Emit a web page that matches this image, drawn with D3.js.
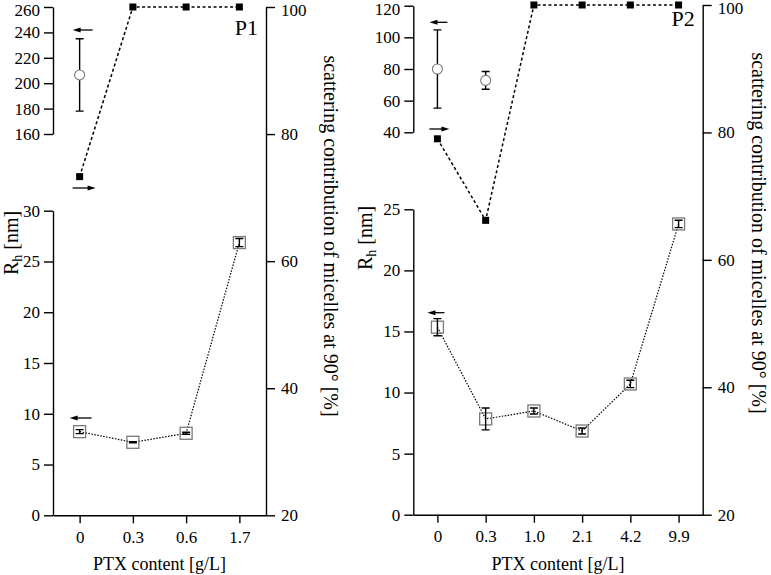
<!DOCTYPE html>
<html>
<head>
<meta charset="utf-8">
<script src="https://cdn.jsdelivr.net/npm/d3@7/dist/d3.min.js"></script>
<style>
body { margin: 0; background: #fff; }
svg text { font-family: "Liberation Serif", "Times New Roman", serif; fill: #000; }
</style>
</head>
<body>
<script>
// P1 data
var p1Categories = ["0", "0.3", "0.6", "1.7"];
var p1Scattering = [73.3, 100, 100, 100];
var p1Large = [206.5, null, null, null];
var p1LargeErr = [28.5, null, null, null];
var p1Small = [8.24, 7.19, 8.08, 26.86];
var p1SmallErr = [0.2, 0.05, 0.1, 0.4];
var p1TopTicks = [160, 180, 200, 220, 240, 260];
var p1BottomTicks = [0, 5, 10, 15, 20, 25, 30];

// P2 data
var p2Categories = ["0", "0.3", "1.0", "2.1", "4.2", "9.9"];
var p2Scattering = [79.0, 66.2, 100, 100, 100, 100];
var p2Large = [80, 72.8, null, null, null, null];
var p2LargeErr = [24.7, 5.6, null, null, null, null];
var p2Small = [15.35, 7.84, 8.49, 6.85, 10.7, 23.8];
var p2SmallErr = [0.7, 0.9, 0.25, 0.25, 0.3, 0.3];
var p2TopTicks = [40, 60, 80, 100, 120];
var p2BottomTicks = [0, 5, 10, 15, 20, 25];

var scatterTicks = [20, 40, 60, 80, 100];

var width = 771,
	height = 575;

var svg = d3.select("body").append("svg")
	.attr("width", width)
	.attr("height", height);

var panels = [
	{
		name: "P1", cats: p1Categories, scat: p1Scattering,
		large: p1Large, largeErr: p1LargeErr, small: p1Small, smallErr: p1SmallErr,
		topTicks: p1TopTicks, bottomTicks: p1BottomTicks,
		left: 53, right: 266, top: 7, bottom: 515.3,
		topDomain: [160, 260], topRange: [134, 7], bottomTop: 210.7,
		rhX: 18, rhY: 243, scX: 324, scY: 236, nameY: 35,
		arrows: [[13, -7, 30], [-7, 16, 188], [12, -10, 418]]
	},
	{
		name: "P2", cats: p2Categories, scat: p2Scattering,
		large: p2Large, largeErr: p2LargeErr, small: p2Small, smallErr: p2SmallErr,
		topTicks: p2TopTicks, bottomTicks: p2BottomTicks,
		left: 413.3, right: 702.7, top: 5, bottom: 514.7,
		topDomain: [40, 120], topRange: [132.3, 5.7], bottomTop: 209.3,
		rhX: 372, rhY: 238, scX: 752, scY: 233, nameY: 26,
		arrows: [[10, -8, 22.3], [-8, 12, 129], [7, -10, 312.7]]
	}
];

function styleAxis(g) {
	g.attr("font-size", null).attr("font-family", null);
	g.selectAll("text").style("font-size", "17px");
	g.selectAll("path, line").attr("stroke", "#000").attr("stroke-width", 1.4);
	// keep the labels at the very top inside the picture
	g.selectAll(".tick").each(function() {
		var t = d3.select(this).attr("transform");
		var ty = +t.slice(t.indexOf(",") + 1, t.indexOf(")"));
		if (ty < 10) d3.select(this).select("text").attr("dy", "0.5em");
	});
}

function drawArrow(g, x1, x2, y) {
	var dir = x2 > x1 ? 1 : -1;
	g.append("line")
		.attr("x1", x1).attr("x2", x2 - dir * 5)
		.attr("y1", y).attr("y2", y)
		.attr("stroke", "#000").attr("stroke-width", 1.3);
	g.append("path")
		.attr("d", "M" + x2 + "," + y + "L" + (x2 - dir * 8) + "," + (y - 2.5) + "L" + (x2 - dir * 8) + "," + (y + 2.5) + "Z")
		.attr("fill", "#000");
}

panels.forEach(function(p) {
	var g = svg.append("g");

	var x = d3.scalePoint()
		.domain(p.cats)
		.range([p.left, p.right])
		.padding(0.5);

	var yTop = d3.scaleLinear().domain(p.topDomain).range(p.topRange);
	var yBottom = d3.scaleLinear()
		.domain([0, d3.max(p.bottomTicks)])
		.range([p.bottom, p.bottomTop]);
	var yRight = d3.scaleLinear().domain([20, 100]).range([p.bottom, p.top]);

	// axes
	g.append("g")
		.attr("transform", "translate(" + p.left + ",0)")
		.call(d3.axisLeft(yTop).tickValues(p.topTicks).tickSize(9).tickPadding(4).tickSizeOuter(0))
		.call(styleAxis);
	g.append("g")
		.attr("transform", "translate(" + p.left + ",0)")
		.call(d3.axisLeft(yBottom).tickValues(p.bottomTicks).tickSize(9).tickPadding(4).tickSizeOuter(0))
		.call(styleAxis);
	g.append("g")
		.attr("transform", "translate(" + p.right + ",0)")
		.call(d3.axisRight(yRight).tickValues(scatterTicks).tickSize(9).tickPadding(6).tickSizeOuter(0))
		.call(styleAxis);
	g.append("g")
		.attr("transform", "translate(0," + p.bottom + ")")
		.call(d3.axisBottom(x).tickSize(8).tickPadding(11).tickSizeOuter(0))
		.call(styleAxis);

	// scattering contribution (filled squares)
	var scatLine = d3.line()
		.x(function(d, i) { return x(p.cats[i]); })
		.y(function(d) { return yRight(d); });
	g.append("path")
		.datum(p.scat)
		.attr("d", scatLine)
		.attr("fill", "none")
		.attr("stroke", "#000")
		.attr("stroke-width", 1.5)
		.attr("stroke-dasharray", "3,2.5");
	g.selectAll(".fsq")
		.data(p.scat)
		.enter().append("rect")
			.attr("x", function(d, i) { return x(p.cats[i]) - 3.5; })
			.attr("y", function(d) { return yRight(d) - 3.5; })
			.attr("width", 7).attr("height", 7)
			.attr("fill", "#000");

	// small Rh (open squares)
	var smallLine = d3.line()
		.x(function(d, i) { return x(p.cats[i]); })
		.y(function(d) { return yBottom(d); });
	g.append("path")
		.datum(p.small)
		.attr("d", smallLine)
		.attr("fill", "none")
		.attr("stroke", "#000")
		.attr("stroke-width", 1.2)
		.attr("stroke-dasharray", "1.5,1.5");
	p.small.forEach(function(v, i) {
		var cx = x(p.cats[i]);
		g.append("rect")
			.attr("x", cx - 6).attr("y", yBottom(v) - 6)
			.attr("width", 12).attr("height", 12)
			.attr("fill", "none")
			.attr("stroke", "#7a7a7a").attr("stroke-width", 1.3);
		var e = p.smallErr[i];
		g.append("path")
			.attr("d", "M" + (cx - 4) + "," + yBottom(v + e) + "H" + (cx + 4) +
				"M" + cx + "," + yBottom(v + e) + "V" + yBottom(v - e) +
				"M" + (cx - 4) + "," + yBottom(v - e) + "H" + (cx + 4))
			.attr("stroke", "#000").attr("stroke-width", 1.4).attr("fill", "none");
	});

	// large Rh (open circles)
	p.large.forEach(function(v, i) {
		if (v === null) return;
		var cx = x(p.cats[i]);
		var e = p.largeErr[i];
		g.append("path")
			.attr("d", "M" + (cx - 4) + "," + yTop(v + e) + "H" + (cx + 4) +
				"M" + cx + "," + yTop(v + e) + "V" + yTop(v - e) +
				"M" + (cx - 4) + "," + yTop(v - e) + "H" + (cx + 4))
			.attr("stroke", "#000").attr("stroke-width", 1.4).attr("fill", "none");
		g.append("circle")
			.attr("cx", cx).attr("cy", yTop(v))
			.attr("r", 5)
			.attr("fill", "#fff")
			.attr("stroke", "#7a7a7a").attr("stroke-width", 1.1);
	});

	// axis pointer arrows
	var cx0 = x(p.cats[0]);
	p.arrows.forEach(function(a) {
		drawArrow(g, cx0 + a[0], cx0 + a[1], a[2]);
	});

	// labels
	g.append("text")
		.attr("x", p.right - 8).attr("y", p.nameY)
		.attr("text-anchor", "end")
		.style("font-size", "22px")
		.text(p.name);

	var rh = g.append("text")
		.attr("transform", "translate(" + p.rhX + "," + p.rhY + ") rotate(-90)")
		.attr("text-anchor", "middle")
		.style("font-size", "20px");
	rh.append("tspan").text("R");
	rh.append("tspan").attr("dy", 4).style("font-size", "14px").text("h");
	rh.append("tspan").attr("dy", -4).text(" [nm]");

	g.append("text")
		.attr("transform", "translate(" + p.scX + "," + p.scY + ") rotate(90)")
		.attr("text-anchor", "middle")
		.style("font-size", "20px")
		.text("scattering contribution of micelles at 90° [%]");

	g.append("text")
		.attr("x", (p.left + p.right) / 2).attr("y", 570)
		.attr("text-anchor", "middle")
		.style("font-size", "18px")
		.text("PTX content [g/L]");
});
</script>
</body>
</html>
